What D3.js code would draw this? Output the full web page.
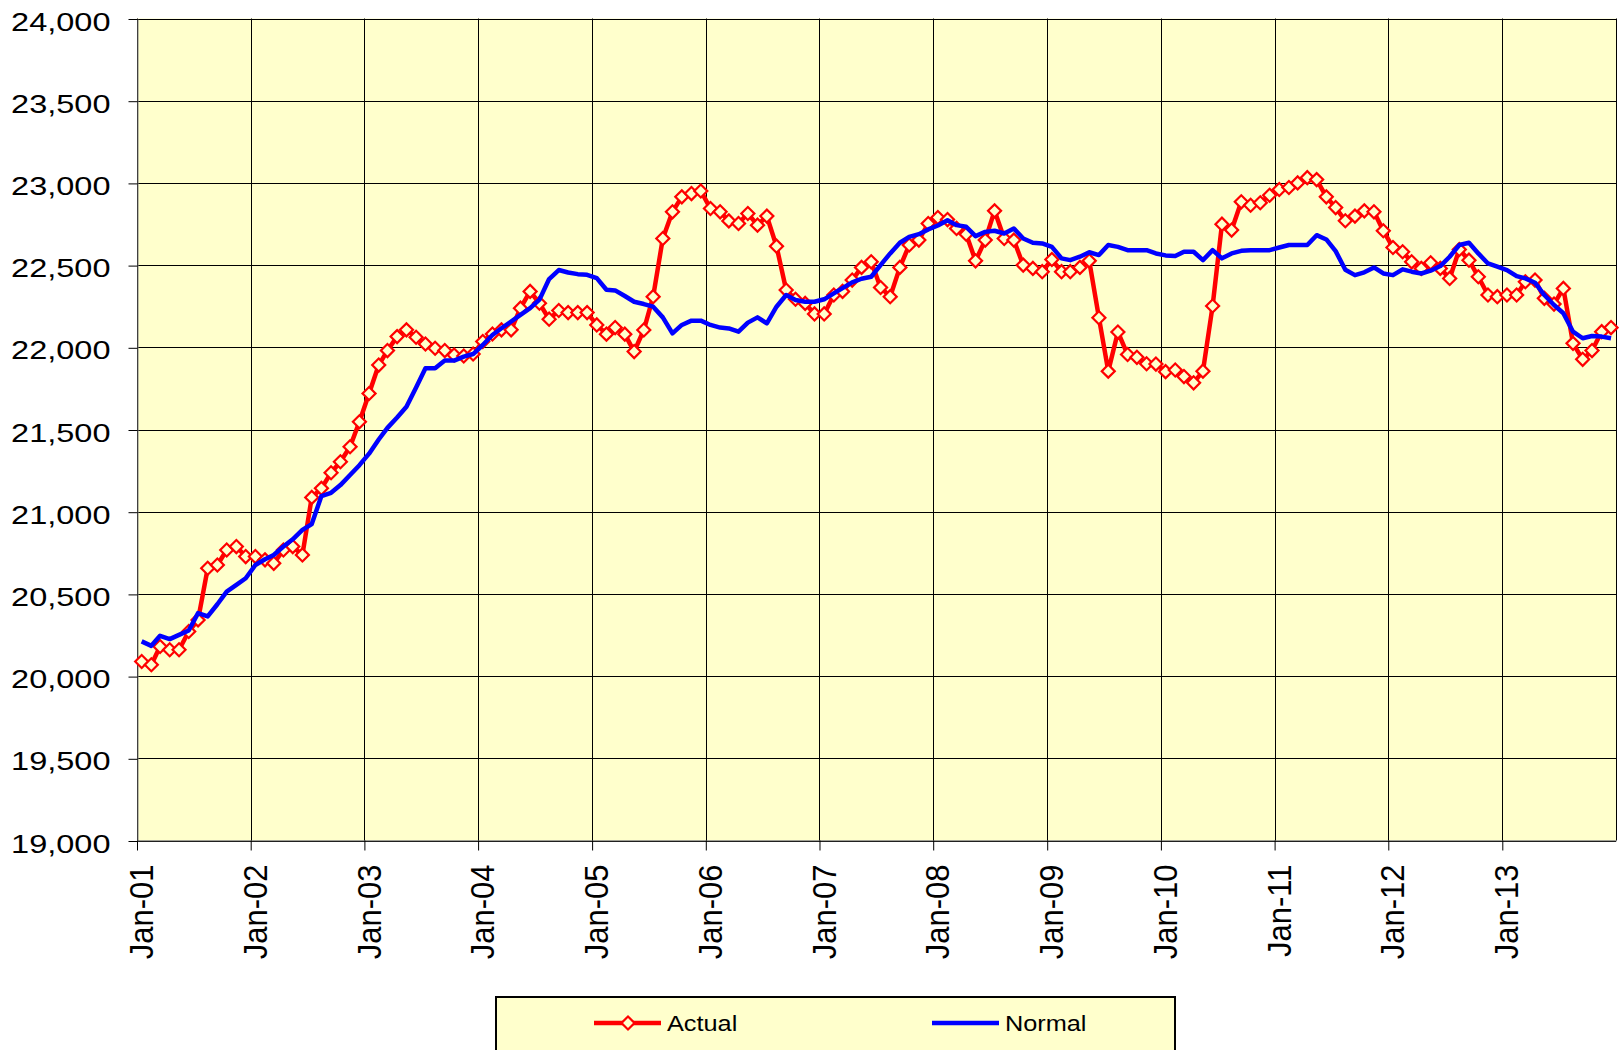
<!DOCTYPE html>
<html lang="en">
<head>
<meta charset="UTF-8">
<title>Actual vs Normal</title>
<script src="https://d3js.org/d3.v7.min.js"></script>
<style>
  body { margin: 0; background: #ffffff; }
  text { font-family: "Liberation Sans", Arial, sans-serif; fill: #000; }
</style>
</head>
<body>
<div id="chart"></div>
<script>

// monthly values, Jan-01 .. Dec-13
var actual = [
  20089, 20069, 20180, 20160, 20160, 20271, 20342, 20656, 20676, 20767, 20788, 20727,
  20727, 20707, 20686, 20767, 20788, 20737, 21087, 21142, 21237, 21304, 21395, 21547,
  21719, 21892, 21980, 22065, 22106, 22061, 22020, 21994, 21980, 21953, 21947, 21959,
  22035, 22081, 22106, 22106, 22238, 22340, 22268, 22171, 22224, 22211, 22211, 22211,
  22136, 22080, 22120, 22080, 21974, 22105, 22308, 22662, 22824, 22915, 22935, 22951,
  22844, 22824, 22769, 22753, 22814, 22743, 22798, 22615, 22348, 22292, 22267, 22203,
  22203, 22318, 22340, 22409, 22486, 22520, 22364, 22308, 22486, 22622, 22652, 22753,
  22789, 22777, 22723, 22688, 22526, 22652, 22830, 22662, 22652, 22500, 22480, 22460,
  22534, 22460, 22460, 22486, 22526, 22180, 21855, 22093, 21956, 21939, 21900, 21898,
  21852, 21862, 21822, 21784, 21855, 22251, 22749, 22713, 22885, 22864, 22879, 22925,
  22960, 22972, 23000, 23032, 23020, 22915, 22850, 22770, 22798, 22830, 22824, 22709,
  22607, 22581, 22520, 22480, 22514, 22480, 22419, 22595, 22530, 22429, 22318, 22308,
  22318, 22318, 22399, 22409, 22298, 22263, 22358, 22024, 21927, 21980, 22095, 22120
];
var normal = [
  20211, 20184, 20245, 20225, 20251, 20277, 20383, 20363, 20437, 20514, 20555, 20595,
  20676, 20711, 20737, 20788, 20832, 20889, 20925, 21095, 21115, 21162, 21223, 21283,
  21353, 21439, 21510, 21573, 21638, 21756, 21872, 21872, 21919, 21919, 21943, 21959,
  22014, 22075, 22116, 22157, 22197, 22238, 22290, 22415, 22470, 22455, 22445, 22441,
  22421, 22350, 22346, 22312, 22277, 22263, 22247, 22182, 22085, 22136, 22162, 22162,
  22136, 22120, 22115, 22095, 22150, 22182, 22146, 22247, 22318, 22288, 22277, 22277,
  22292, 22328, 22360, 22395, 22417, 22429, 22500, 22571, 22636, 22672, 22688, 22717,
  22741, 22773, 22743, 22733, 22676, 22702, 22709, 22692, 22723, 22662, 22636, 22632,
  22611, 22541, 22530, 22551, 22578, 22561, 22622, 22611, 22591, 22591, 22591, 22571,
  22559, 22555, 22581, 22581, 22530, 22591, 22541, 22571, 22587, 22591, 22591, 22591,
  22607, 22622, 22622, 22622, 22682, 22656, 22585, 22472, 22439, 22456, 22486, 22449,
  22439, 22474, 22460, 22449, 22466, 22494, 22551, 22622, 22636, 22571, 22510, 22490,
  22470, 22433, 22419, 22393, 22318, 22257, 22207, 22095, 22055, 22069, 22065, 22055
];
var yTicks = [19000, 19500, 20000, 20500, 21000, 21500, 22000, 22500, 23000, 23500, 24000];
var xTickLabels = ["Jan-01", "Jan-02", "Jan-03", "Jan-04", "Jan-05", "Jan-06", "Jan-07",
                   "Jan-08", "Jan-09", "Jan-10", "Jan-11", "Jan-12", "Jan-13"];
var seriesNames = ["Actual", "Normal"];

var W = 1619, H = 1050;
var plotL = 137, plotR = 1616, plotT = 18.5, plotB = 840.5;
var bg = "#FFFFCC";

var svg = d3.select("#chart").append("svg")
    .attr("width", W)
    .attr("height", H);

// one point per month, placed mid-month
var start = new Date(2001, 0, 1), end = new Date(2014, 0, 1);
var months = d3.timeMonth.range(start, end);
var dates = months.map(function(d) { return new Date(d.getFullYear(), d.getMonth(), 16); });

var x = d3.scaleTime().domain([start, end]).range([plotL, plotR]);
var y = d3.scaleLinear().domain([19000, 24000]).range([plotB, plotT]);

// plot area
svg.append("rect")
  .attr("x", plotL).attr("y", plotT)
  .attr("width", plotR - plotL).attr("height", plotB - plotT)
  .attr("fill", bg);

var yearTicks = d3.timeYear.range(start, end);

// grid
svg.append("g").selectAll("line")
  .data(yTicks)
  .join("line")
    .attr("x1", plotL).attr("x2", plotR)
    .attr("y1", function(d) { return Math.round(y(d)) + 0.5; })
    .attr("y2", function(d) { return Math.round(y(d)) + 0.5; })
    .attr("stroke", "#000").attr("stroke-width", 1);
svg.append("g").selectAll("line")
  .data(yearTicks.concat([end]))
  .join("line")
    .attr("x1", function(d) { return Math.round(x(d)) + 0.5; })
    .attr("x2", function(d) { return Math.round(x(d)) + 0.5; })
    .attr("y1", plotT).attr("y2", plotB)
    .attr("stroke", "#000").attr("stroke-width", 1);

// Y axis
var yAxis = svg.append("g")
  .attr("transform", "translate(" + (plotL + 0.5) + ",0.5)")
  .call(d3.axisLeft(y).tickValues(yTicks).tickFormat(d3.format(",")).tickSize(9).tickSizeOuter(0));
yAxis.select(".domain").attr("stroke", "#808080");
yAxis.selectAll(".tick line").attr("stroke", "#000");
yAxis.selectAll(".tick text")
  .attr("x", -21.6)
  .attr("dy", "0.43em")
  .attr("transform", "scale(1.25,1)")
  .style("font-size", "26px")
  .style("font-family", "'Liberation Sans', Arial, sans-serif")
  .attr("fill", "#000");

// X axis
var xAxis = svg.append("g")
  .attr("transform", "translate(0," + plotB + ")")
  .call(d3.axisBottom(x).tickValues(yearTicks)
    .tickFormat(function(d, i) { return xTickLabels[i]; })
    .tickSize(10).tickSizeOuter(0));
xAxis.select(".domain").attr("stroke", "#404040");
xAxis.selectAll(".tick line").attr("stroke", "#000");
xAxis.selectAll(".tick text")
  .attr("text-anchor", "end")
  .attr("x", -24)
  .attr("y", 14.4)
  .attr("dy", 0)
  .attr("transform", "scale(1.09,1) rotate(-90)")
  .style("font-size", "31px")
  .style("font-family", "'Liberation Sans', Arial, sans-serif")
  .attr("fill", "#000");

var line = function(vals) {
  return d3.line()
    .x(function(d, i) { return x(dates[i]); })
    .y(function(d) { return y(d); })(vals);
};

// Actual (red, diamonds)
svg.append("path")
  .attr("d", line(actual))
  .attr("fill", "none")
  .attr("stroke", "#FF0000")
  .attr("stroke-width", 4.5)
  .attr("stroke-linejoin", "round");

var diamond = d3.symbol().type(d3.symbolSquare).size(85);
svg.append("g").selectAll("path")
  .data(actual)
  .join("path")
    .attr("d", diamond)
    .attr("transform", function(d, i) {
      return "translate(" + x(dates[i]) + "," + y(d) + ") rotate(45)";
    })
    .attr("fill", bg)
    .attr("stroke", "#FF0000")
    .attr("stroke-width", 2.2);

// Normal (blue)
svg.append("path")
  .attr("d", line(normal))
  .attr("fill", "none")
  .attr("stroke", "#0000FF")
  .attr("stroke-width", 4.5)
  .attr("stroke-linejoin", "round");

// legend
var leg = svg.append("g");
leg.append("rect")
  .attr("x", 496).attr("y", 997)
  .attr("width", 679).attr("height", 70)
  .attr("fill", bg)
  .attr("stroke", "#000")
  .attr("stroke-width", 2);

var legItems = [
  {name: seriesNames[0], color: "#FF0000", x0: 594, marker: true},
  {name: seriesNames[1], color: "#0000FF", x0: 932, marker: false}
];
legItems.forEach(function(it) {
  leg.append("line")
    .attr("x1", it.x0).attr("x2", it.x0 + 67)
    .attr("y1", 1023).attr("y2", 1023)
    .attr("stroke", it.color).attr("stroke-width", 4.5);
  if (it.marker) {
    leg.append("path")
      .attr("d", diamond)
      .attr("transform", "translate(" + (it.x0 + 34) + ",1023) rotate(45)")
      .attr("fill", bg)
      .attr("stroke", it.color)
      .attr("stroke-width", 2.2);
  }
  leg.append("text")
    .attr("x", (it.x0 + 73) / 1.15)
    .attr("y", 1031)
    .attr("transform", "scale(1.15,1)")
    .style("font-size", "22px")
    .text(it.name);
});

</script>
</body>
</html>
